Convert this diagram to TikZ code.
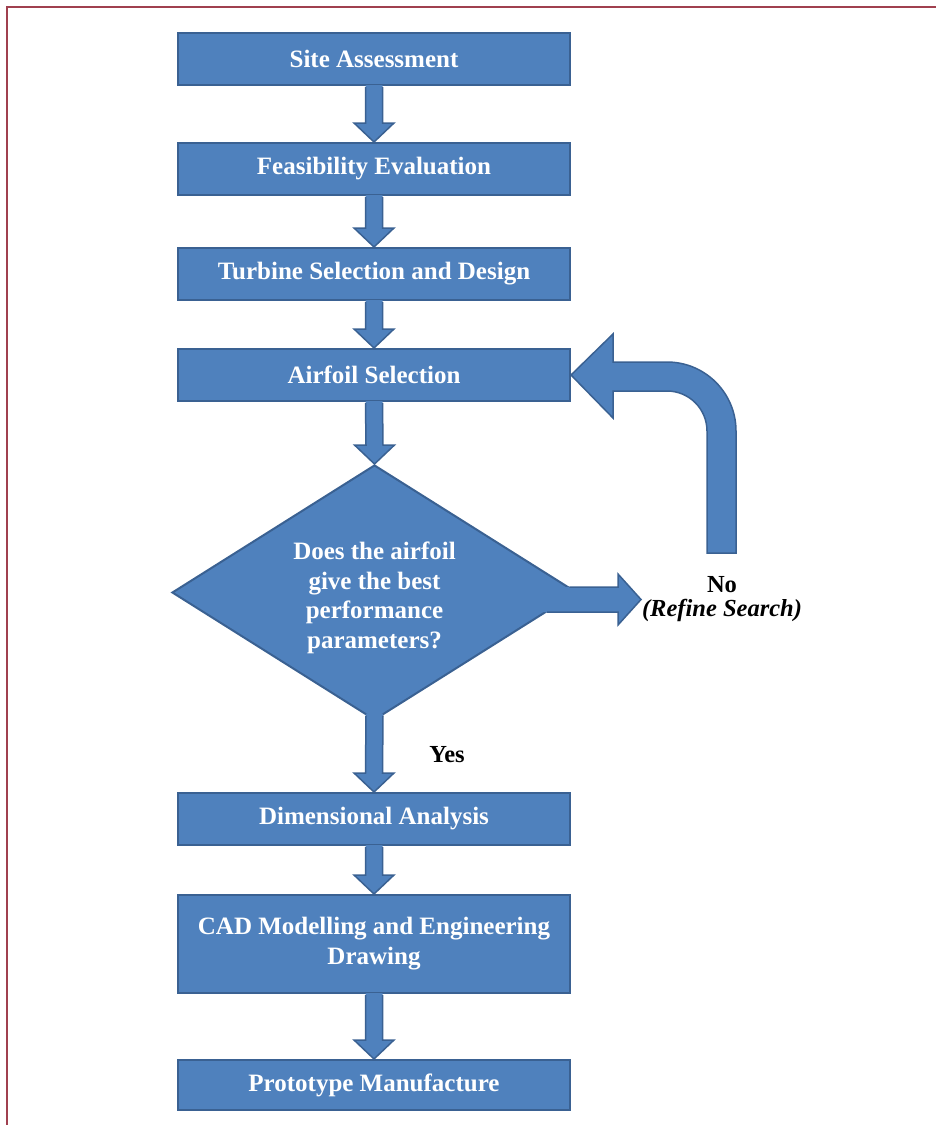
\documentclass[tikz,border=0pt]{standalone}
\usepackage{fontspec}
\setmainfont{Liberation Serif}
\usetikzlibrary{shapes.geometric,calc}
\definecolor{bfill}{HTML}{4F81BD}
\definecolor{bline}{HTML}{3A6192}
\definecolor{framecol}{HTML}{A0404F}
\newcommand\blockdown[3]{%
  \fill[bfill] ($(#1)+(-8.5,#3+2)$) -- ($(#2)+(-8.5,19)$) -- ($(#2)+(-20,19)$) -- (#2) -- ($(#2)+(20,19)$) -- ($(#2)+(8.5,19)$) -- ($(#1)+(8.5,#3+2)$) -- cycle;
  \draw[barrow] ($(#1)+(-8.5,#3)$) -- ($(#2)+(-8.5,19)$) -- ($(#2)+(-20,19)$) -- (#2) -- ($(#2)+(20,19)$) -- ($(#2)+(8.5,19)$) -- ($(#1)+(8.5,#3)$);}
\begin{document}
\begin{tikzpicture}[x=1pt,y=1pt,
  stepbox/.style={draw=bline,line width=2pt,fill=bfill,text=white,
    font=\fontsize{25}{28}\selectfont\bfseries,minimum width=392pt,
    minimum height=52pt,align=center,inner sep=0pt},
  decision/.style={diamond,draw=bline,line width=2pt,fill=bfill,text=white,
    font=\fontsize{25}{29}\selectfont\bfseries,minimum width=405pt,
    minimum height=255pt,align=center,inner sep=0pt},
  barrow/.style={draw=bline,line width=1.5pt,line join=miter},
  lbl/.style={font=\fontsize{24.5}{24}\selectfont\bfseries,text=black,align=center}]
\useasboundingbox (0,0) rectangle (936,-1125);
\draw[framecol,line width=1.5pt] (7,-1125) -- (7,-7) -- (936,-7);

\node[stepbox] (s1) at (374,-59) {Site Assessment};
\node[stepbox] (s2) at (374,-169) {Feasibility Evaluation};
\node[stepbox] (s3) at (374,-274) {Turbine Selection and Design};
\node[stepbox] (s4) at (374,-375) {Airfoil Selection};
\node[decision] (d) at (374.5,-592.5) {};
\node[font=\fontsize{25}{29.5}\selectfont\bfseries,text=white,align=center] (dq) at (374.5,-598) {Does the airfoil\\give the best\\performance\\parameters?};
\node[stepbox] (s5) at (374,-819) {Dimensional Analysis};
\node[stepbox,minimum height=98pt,font=\fontsize{25}{30}\selectfont\bfseries] (s6) at (374,-944) {CAD Modelling and Engineering\\Drawing};
\node[stepbox,minimum height=50pt] (s7) at (374,-1085) {Prototype Manufacture};

\blockdown{s1.south}{s2.north}{-1}
\blockdown{s2.south}{s3.north}{-1}
\blockdown{s3.south}{s4.north}{-1}
\blockdown{s4.south}{d.north}{-1}
\blockdown{d.south}{s5.north}{5.4}
\blockdown{s5.south}{s6.north}{-1}
\blockdown{s6.south}{s7.north}{-1}

% No branch arrow
\fill[bfill] ($(d.east)+(-20,5.5)$) -- (618,-587) -- (618,-574) -- (641,-599.5) -- (618,-625) -- (618,-612) -- ($(d.east)+(-42,-19.5)$) -- cycle;
\draw[barrow] ($(d.east)+(-8.7,5.5)$) -- (618,-587) -- (618,-574) -- (641,-599.5) -- (618,-625) -- (618,-612) -- ($(d.east)+(-31,-19.5)$);

% feedback arrow
\coordinate (fb) at (721.5,-553);
\filldraw[barrow,fill=bfill] ($(fb)+(-14.5,0)$) -- (707,-431) arc[start angle=0,end angle=90,radius=40]
  -- (613,-391) -- (613,-418) -- (s4.east) -- (613,-334) -- (613,-362) -- (667,-362)
  arc[start angle=90,end angle=0,radius=69] -- ($(fb)+(14.5,0)$) -- cycle;

\node[lbl] (no) at (722,-599) {No\\\textit{(Refine Search)}};
\node[lbl] (yes) at (447,-755) {Yes};
\end{tikzpicture}
\end{document}
